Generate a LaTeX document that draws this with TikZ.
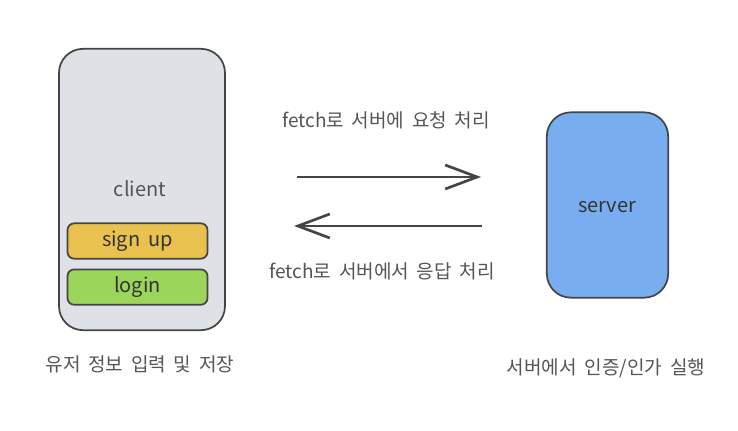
\documentclass[tikz,border=0pt]{standalone}
\usepackage{fontspec}
\usepackage{xcolor}
\usepackage{tikz}
\usetikzlibrary{arrows.meta}
\usetikzlibrary{positioning}

\newfontfamily\kr[WordSpace=2.5]{Noto Sans CJK KR}
\newfontfamily\krlat[WordSpace=1.8]{Noto Sans CJK KR}

\definecolor{clientgray}{HTML}{DEE1E6}
\definecolor{signupyellow}{HTML}{E8C14F}
\definecolor{loginGreen}{HTML}{9BD55A}
\definecolor{serverblue}{HTML}{78AEF0}
\definecolor{inkgray}{HTML}{454545}
\definecolor{textgray}{HTML}{555555}

\begin{document}
\begin{tikzpicture}[
  x=0.75pt, y=-0.75pt,
  box/.style={rectangle, draw=inkgray, line width=1.3pt, rounded corners=18pt, inner sep=0pt},
  btn/.style={rectangle, draw=inkgray, line width=1.3pt, rounded corners=5pt, minimum width=105pt, minimum height=26.5pt, inner sep=0pt, font=\krlat\fontsize{15}{17}\selectfont, text=textgray!60!black},
  lbl/.style={font=\kr\fontsize{14.3}{16}\selectfont, text=textgray, inner sep=0pt},
  every path/.style={line width=2pt},
]
\tikzset{>={Straight Barb[length=24pt, width=18pt, line width=2pt]}}
\useasboundingbox (0,0) rectangle (738,431);

% Boxes
\node[box, fill=clientgray, minimum width=124.5pt, minimum height=211pt] (client) at (142,189.5) {};
\node[box, fill=serverblue, minimum width=91pt, minimum height=139pt] (server) at (607.5,205) {};

% Texts in the boxes
\node[font=\krlat\fontsize{15}{17}\selectfont, text=textgray] (clientlbl) at (140,189) {client};
\node[font=\krlat\fontsize{15}{17}\selectfont, text=textgray!60!black] (serverlbl) at (607,207) {server};

% Buttons
\node[btn, fill=signupyellow] (signup) at (137.5,241) {sign up};
\node[btn, fill=loginGreen, below=6.75pt of signup] (login) {login};

% Arrow ends
\coordinate (reqA) at (297,177);
\coordinate (reqB) at (481,177);
\coordinate (resA) at (482,226);
\coordinate (resB) at (294,226);

% Arrows
\draw[->, draw=inkgray] (reqA) -- (reqB);
\draw[->, draw=inkgray] (resA) -- (resB);

% Labels
\node[lbl] (reqlbl) at (386,120) {fetch로 서버에 요청 처리};
\node[lbl] (reslbl) at (382,271) {fetch로 서버에서 응답 처리};
\node[lbl] (clientnote) at (140,364) {유저 정보 입력 및 저장};
\node[lbl] (servernote) at (606,368) {서버에서 인증/인가 실행};

\end{tikzpicture}
\end{document}
